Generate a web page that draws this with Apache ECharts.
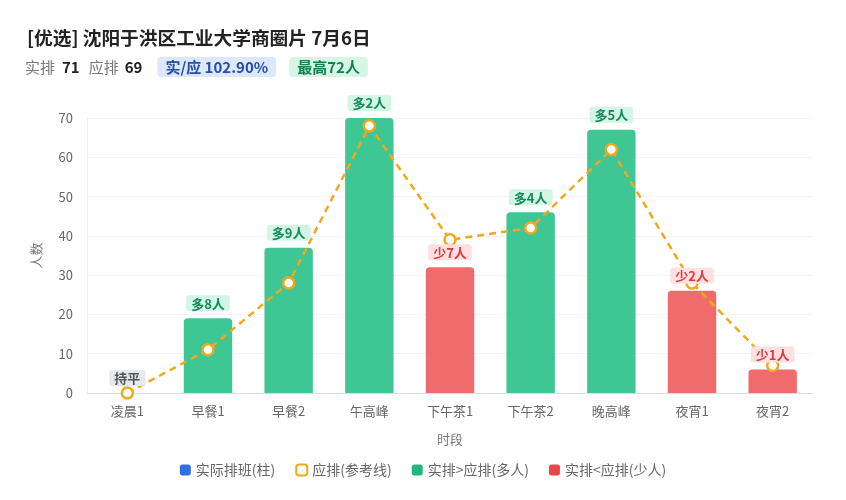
<!DOCTYPE html>
<html><head><meta charset="utf-8">
<script src="https://cdn.jsdelivr.net/npm/echarts@6/dist/echarts.min.js"></script>
<style>html,body{margin:0;padding:0;background:#fff}#c{width:846px;height:500px}</style>
</head><body><div id="c"></div>
<script>
const categories = ['凌晨1','早餐1','早餐2','午高峰','下午茶1','下午茶2','晚高峰','夜宵1','夜宵2'];
const actual = [0, 19, 37, 70, 32, 46, 67, 26, 6];
const expected = [0, 11, 28, 68, 39, 42, 62, 28, 7];
const yTicks = {min: 0, max: 70, interval: 10};
const titleText = '[优选] 沈阳于洪区工业大学商圈片 7月6日';
const summary = {actualTotal: 71, expectedTotal: 69, ratio: '102.90%', peak: 72};

const GREEN = '#3ec795', RED = '#f06b6b', ORANGE = '#f0a81c', BLUE = '#2f6fe4';
const FONT = '"Noto Sans CJK SC", "Noto Sans", sans-serif';

const barData = actual.map((v, i) => ({
  value: v,
  itemStyle: {color: v - expected[i] < 0 ? RED : GREEN, borderRadius: [4, 4, 0, 0]}
}));

const labelData = actual.map((v, i) => {
  const d = v - expected[i];
  let txt, lc, bg;
  if (d > 0) { txt = '多' + d + '人'; lc = '#178a5c'; bg = '#d3f5e6'; }
  else if (d < 0) { txt = '少' + (-d) + '人'; lc = '#d83a40'; bg = '#fde1e1'; }
  else { txt = '持平'; lc = '#555'; bg = '#e6e8ec'; }
  return {
    value: v,
    label: {show: true, position: 'top', distance: 7, formatter: txt, color: lc,
      backgroundColor: bg, padding: [2, 5, 1, 5], borderRadius: 3,
      fontSize: 13, fontWeight: 'bold', fontFamily: FONT}
  };
});

const chart = echarts.init(document.getElementById('c'));
chart.setOption({
  animation: false,
  textStyle: {fontFamily: FONT},
  title: [
    {text: titleText, left: 22, top: 24, textStyle: {fontSize: 18.7, fontWeight: 'bold', color: '#222', fontFamily: FONT}},
    {text: '{g|实排}{s1|}{b|' + summary.actualTotal + '}{s2|}{g|应排}{s3|}{b|' + summary.expectedTotal + '}{sp|}{bl|实/应 ' + summary.ratio + '}{sp2|}{gr|最高' + summary.peak + '人}',
     left: 20, top: 52,
     textStyle: {fontWeight: 'normal', rich: {
       g: {fontSize: 15, color: '#777', fontWeight: 'normal', fontFamily: FONT},
       b: {fontSize: 15, color: '#222', fontWeight: 'bold', fontFamily: FONT},
       s1: {width: 7}, s2: {width: 9}, s3: {width: 6},
       sp: {width: 15},
       sp2: {width: 13},
       bl: {fontSize: 15, color: '#2a4ea6', fontWeight: 'bold', backgroundColor: '#dce8fb', padding: [3, 8, 2, 8], borderRadius: 4, fontFamily: FONT},
       gr: {fontSize: 15, color: '#17804f', fontWeight: 'bold', backgroundColor: '#d6f5e6', padding: [3, 8, 2, 8], borderRadius: 4, fontFamily: FONT}
     }}}
  ],
  legend: {
    bottom: 18, left: 'center', itemWidth: 11, itemHeight: 11, itemGap: 20,
    textStyle: {fontSize: 14, color: '#666'},
    data: [
      {name: '实际排班(柱)', icon: 'roundRect', itemStyle: {color: BLUE, opacity: 1}},
      {name: '应排(参考线)', icon: 'roundRect', itemStyle: {color: '#fff', borderColor: ORANGE, borderWidth: 2, opacity: 1}},
      {name: '实排>应排(多人)', icon: 'roundRect', itemStyle: {color: '#22b67c', opacity: 1}},
      {name: '实排<应排(少人)', icon: 'roundRect', itemStyle: {color: '#ee4444', opacity: 1}}
    ]
  },
  grid: {left: 87, right: 33, top: 118, bottom: 107},
  xAxis: {
    type: 'category', data: categories,
    name: '时段', nameLocation: 'middle', nameGap: 40,
    nameTextStyle: {fontSize: 13, color: '#777'},
    axisLine: {lineStyle: {color: '#ddd'}}, axisTick: {show: false},
    axisLabel: {fontSize: 13, color: '#666', margin: 12}
  },
  yAxis: {
    type: 'value', min: yTicks.min, max: yTicks.max, interval: yTicks.interval,
    name: '人数', nameLocation: 'middle', nameGap: 44,
    nameTextStyle: {fontSize: 13, color: '#777'},
    axisLine: {show: true, lineStyle: {color: '#eee'}},
    axisLabel: {fontSize: 13, color: '#666', margin: 14},
    splitLine: {lineStyle: {color: '#f3f3f3'}}
  },
  series: [
    {name: '实际排班(柱)', type: 'bar', barWidth: '60%', data: barData, itemStyle: {color: BLUE}, z: 2},
    {name: '应排(参考线)', type: 'line', data: expected, z: 3,
     symbol: 'circle', symbolSize: 11,
     itemStyle: {color: '#fff', borderColor: ORANGE, borderWidth: 2.5},
     lineStyle: {color: ORANGE, width: 2.5, type: [7, 5]}},
    {name: 'labels', type: 'bar', barWidth: '60%', barGap: '-100%', data: labelData, z: 5, silent: true,
     itemStyle: {color: 'rgba(0,0,0,0)'}},
    {name: '实排>应排(多人)', type: 'scatter', data: [], itemStyle: {color: '#22b67c'}},
    {name: '实排<应排(少人)', type: 'scatter', data: [], itemStyle: {color: '#ee4444'}}
  ]
});
</script></body></html>
